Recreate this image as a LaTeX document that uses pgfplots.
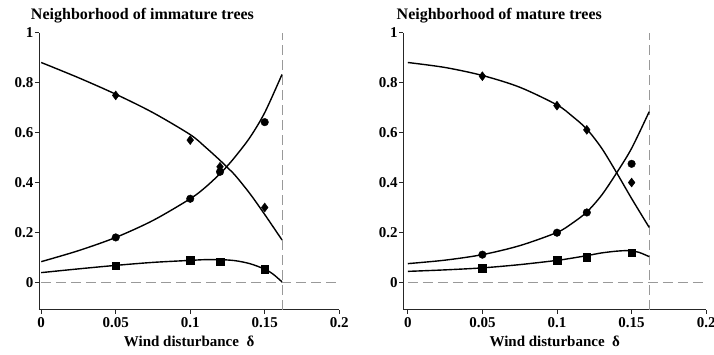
\documentclass[border=0pt]{standalone}
\usepackage{fontspec}
\setmainfont{Liberation Serif}
\usepackage{pgfplots}
\pgfplotsset{compat=1.18}
\tikzset{ttl/.style={anchor=base west, font=\bfseries\fontsize{16}{16}\selectfont, inner sep=0pt, outer sep=0pt}}
\begin{document}
\begin{tikzpicture}
\useasboundingbox (-39pt,-44.2pt) rectangle (675pt,309.8pt);
\pgfplotsset{
 myax/.style={
  scale only axis, height=277pt,
  ymin=-0.11, ymax=1, xmax=0.2,
  axis x line*=bottom, axis y line*=left,
  axis line style={line width=0.8pt, black!85, -},
  tick align=outside, major tick length=4pt,
  tick style={black!85, line width=0.8pt},
  xtick={0,0.05,0.1,0.15,0.2}, xticklabels={0,0.05,0.1,0.15,0.2},
  ytick={0,0.2,0.4,0.6,0.8,1}, yticklabels={0,0.2,0.4,0.6,0.8,1},
  ticklabel style={font=\bfseries\fontsize{15}{15}\selectfont},
  yticklabel style={inner sep=1.5pt},
  xlabel={Wind disturbance\ \ δ},
  xlabel style={at={(axis description cs:0.5,0)}, anchor=base, yshift=-37pt, font=\bfseries\fontsize{15}{15}\selectfont},
  clip=false,
 },
 curve/.style={black, line width=1.4pt, smooth, no marks},
 dsh/.style={black!40, line width=0.8pt, dash pattern=on 10pt off 5pt, no marks},
 mD/.style={only marks, mark=diamond*, mark size=4.5pt, black},
 mC/.style={only marks, mark=*, mark size=3.8pt, black},
 mS/.style={only marks, mark=square*, mark size=3.8pt, black},
}
% ---------------- left panel ----------------
\begin{axis}[myax, at={(0pt,0pt)}, anchor=south west, xmin=-0.0015, width=300.2pt]
\addplot[dsh] coordinates {(0,0) (0.2,0)};
\addplot[dsh] coordinates {(0.1616,-0.11) (0.1616,1)};
\addplot[curve] coordinates {(0,0.881) (0.025,0.82) (0.05,0.754) (0.075,0.68) (0.1,0.592) (0.11,0.543) (0.12,0.489) (0.1244,0.463) (0.13,0.43) (0.14,0.356) (0.15,0.272) (0.1616,0.17)};
\addplot[curve] coordinates {(0,0.083) (0.025,0.127) (0.05,0.18) (0.075,0.248) (0.1,0.335) (0.11,0.38) (0.12,0.435) (0.1244,0.463) (0.13,0.502) (0.14,0.58) (0.15,0.68) (0.1616,0.833)};
\addplot[curve] coordinates {(0,0.039) (0.025,0.054) (0.05,0.068) (0.075,0.08) (0.1,0.088) (0.11,0.091) (0.12,0.091) (0.13,0.087) (0.14,0.075) (0.15,0.053) (0.1556,0.033) (0.1616,0.002)};
\addplot[mD] coordinates {(0.05,0.749) (0.1,0.570) (0.12,0.463) (0.15,0.30)};
\addplot[mC] coordinates {(0.05,0.18) (0.1,0.335) (0.12,0.443) (0.15,0.642)};
\addplot[mS] coordinates {(0.05,0.067) (0.1,0.088) (0.12,0.083) (0.15,0.053)};
\end{axis}
% ---------------- right panel ----------------
\begin{axis}[myax, at={(364.3pt,0pt)}, anchor=south west, xmin=-0.003, width=302.9pt]
\addplot[dsh] coordinates {(0,0) (0.2,0)};
\addplot[dsh] coordinates {(0.1618,-0.11) (0.1618,1)};
\addplot[curve] coordinates {(0,0.881) (0.025,0.861) (0.05,0.829) (0.075,0.782) (0.1,0.711) (0.11,0.667) (0.12,0.614) (0.13,0.537) (0.14,0.439) (0.15,0.336) (0.1618,0.22)};
\addplot[curve] coordinates {(0,0.075) (0.025,0.089) (0.05,0.111) (0.075,0.147) (0.1,0.2) (0.11,0.236) (0.12,0.282) (0.13,0.35) (0.14,0.439) (0.15,0.537) (0.1618,0.684)};
\addplot[curve] coordinates {(0,0.044) (0.025,0.05) (0.05,0.058) (0.075,0.071) (0.1,0.088) (0.11,0.097) (0.12,0.107) (0.13,0.118) (0.14,0.125) (0.148,0.127) (0.155,0.12) (0.1618,0.103)};
\addplot[mD] coordinates {(0.05,0.826) (0.1,0.708) (0.12,0.611) (0.15,0.40)};
\addplot[mC] coordinates {(0.05,0.111) (0.1,0.199) (0.12,0.28) (0.15,0.475)};
\addplot[mS] coordinates {(0.05,0.057) (0.1,0.088) (0.12,0.101) (0.15,0.119)};
\end{axis}
\node[ttl] at (-8pt,290.7pt) {Neighborhood of immature trees};
\node[ttl] at (357.7pt,290.7pt) {Neighborhood of mature trees};
\end{tikzpicture}
\end{document}
